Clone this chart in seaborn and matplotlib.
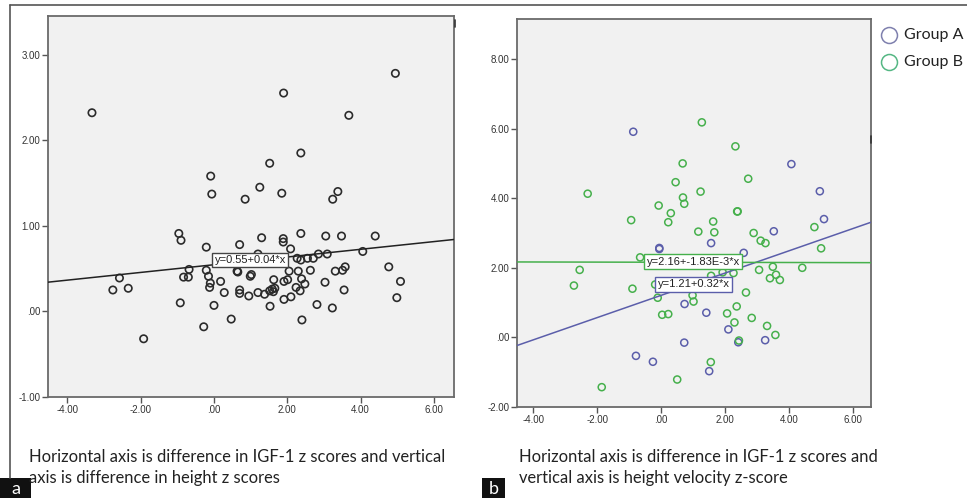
import numpy as np
import pandas as pd
import matplotlib.pyplot as plt
import seaborn as sns
from matplotlib.lines import Line2D
from matplotlib.patches import Rectangle
from matplotlib.ticker import FuncFormatter

# Panel a: difference in IGF-1 z scores vs difference in height z scores
a_igf = [-3.33, 4.95, 1.90, 3.68, 2.37, 1.52, -0.09, -0.06, 1.25, 1.85, 0.85, 3.38, 3.24,
         -0.96, -0.90, -0.21, 0.70, 1.30, 1.89, 1.89, 2.37, 3.05, 3.48, 4.40, 2.09, 4.06,
         2.85, 3.09, 2.27, 2.37, 2.55, 2.71, 1.20,
         -2.58, -2.76, -2.34, -1.92, -0.92, -0.83, -0.70, -0.68, -0.21, -0.15, -0.10, -0.12,
         0.18, 0.28, 0.00, -0.28, 0.47,
         0.65, 0.63, 0.70, 0.70, 0.95, 0.99, 1.02, 1.20, 1.38, 1.52, 1.59, 1.62, 1.66, 1.63,
         1.53, 1.91, 2.01, 1.91, 2.05, 2.10, 2.24, 2.30, 2.35, 2.39, 2.48, 2.63, 2.40, 2.81,
         3.03, 3.23, 3.31, 3.51, 3.58, 3.55, 4.77, 5.09, 4.99]
a_height = [2.32, 2.78, 2.55, 2.29, 1.85, 1.73, 1.58, 1.37, 1.45, 1.38, 1.31, 1.40, 1.31,
            0.91, 0.83, 0.75, 0.78, 0.86, 0.85, 0.81, 0.91, 0.88, 0.88, 0.88, 0.73, 0.70,
            0.67, 0.67, 0.62, 0.60, 0.62, 0.62, 0.67,
            0.39, 0.25, 0.27, -0.32, 0.10, 0.40, 0.40, 0.49, 0.48, 0.41, 0.33, 0.28,
            0.35, 0.22, 0.07, -0.18, -0.09,
            0.46, 0.47, 0.25, 0.21, 0.18, 0.41, 0.43, 0.22, 0.20, 0.24, 0.26, 0.23, 0.27, 0.37,
            0.06, 0.14, 0.37, 0.35, 0.47, 0.17, 0.28, 0.47, 0.24, 0.38, 0.32, 0.48, -0.10, 0.08,
            0.34, 0.04, 0.47, 0.48, 0.52, 0.25, 0.52, 0.35, 0.16]
a_fit = (0.545, 0.045)
a_fit_label = "y=0.55+0.04*x"

# Panel b: difference in IGF-1 z scores vs height velocity z-score, by group
b_groups = ["Group A", "Group B"]
b_igf_A = [-0.875, 4.07, 4.96, 5.09, 3.52, 1.56, -0.06, -0.06, 2.58, 0.73, 1.41, 2.10,
           0.72, 2.41, 3.25, -0.79, -0.26, 1.50]
b_hv_A = [5.91, 4.98, 4.20, 3.40, 3.05, 2.71, 2.57, 2.54, 2.43, 0.96, 0.71, 0.23,
          -0.15, -0.14, -0.08, -0.53, -0.70, -0.97]
b_igf_B = [1.27, 2.32, 0.67, 2.72, 0.45, 1.23, -2.30, 0.68, 0.72, -0.08, 0.30, 2.375, 2.39,
           -0.94, 0.22, 1.625, 1.16, 1.66, 2.89, 4.79, 3.11, 3.26, 5.00, -0.66, -2.55, -2.73,
           -0.90, -0.19, -0.11, 0.98, 1.01, 0.03, 0.22, 1.56, 2.26, 1.92, 3.06, 3.49, 3.59,
           3.40, 3.71, 4.41, 2.65, 2.36, 2.06, 2.83, 2.29, 3.31, 3.57, 2.43, 1.55, 0.50, -1.86]
b_hv_B = [6.18, 5.49, 5.00, 4.56, 4.46, 4.19, 4.13, 4.02, 3.84, 3.79, 3.57, 3.62, 3.62,
          3.37, 3.31, 3.33, 3.04, 3.02, 3.00, 3.17, 2.78, 2.71, 2.56, 2.30, 1.94, 1.49,
          1.40, 1.52, 1.14, 1.21, 1.03, 0.65, 0.67, 1.77, 1.85, 1.87, 1.94, 2.03, 1.80,
          1.70, 1.65, 2.00, 1.29, 0.89, 0.69, 0.56, 0.43, 0.33, 0.07, -0.09, -0.71, -1.21, -1.43]
b_fit_A = (1.21, 0.32)
b_fit_B = (2.16, -1.83e-3)
b_fit_labels = ["y=1.21+0.32*x", "y=2.16+-1.83E-3*x"]

x_ticks = [-4, -2, 0, 2, 4, 6]
a_yticks = [-1, 0, 1, 2, 3]
b_yticks = [-2, 0, 2, 4, 6, 8]

caption_a = ["Horizontal axis is difference in IGF-1 z scores and vertical",
             "axis is difference in height z scores"]
caption_b = ["Horizontal axis is difference in IGF-1 z scores and",
             "vertical axis is height velocity z-score"]

col_a = "#2b2b2b"
col_A = "#5b5eaa"
col_B = "#46b04c"

sns.set_theme(style="ticks")
plt.rcParams['font.family'] = ['Liberation Sans', 'DejaVu Sans']

W, H = 967, 498
fig = plt.figure(figsize=(W / 100, H / 100), dpi=100)
fig.patch.set_facecolor("white")


def fx(px):
    return px / W


def fy(py):
    return 1 - py / H


def tick_fmt(v, pos):
    s = f"{v:.2f}"
    return ".00" if s in ("0.00", "-0.00") else s


def style_axis(ax, xlim, ylim, yticks):
    ax.set_xlim(xlim)
    ax.set_ylim(ylim)
    ax.set_xticks(x_ticks)
    ax.set_yticks(yticks)
    ax.xaxis.set_major_formatter(FuncFormatter(tick_fmt))
    ax.yaxis.set_major_formatter(FuncFormatter(tick_fmt))
    ax.set_facecolor("#f1f1f1")
    for sp in ax.spines.values():
        sp.set_visible(True)
        sp.set_color("#6a6a6a")
        sp.set_linewidth(1.3)
    ax.tick_params(direction="out", length=4, width=1, color="#555555",
                   labelsize=7, labelcolor="#333333", pad=1.5)
    ax.set_xlabel("")
    ax.set_ylabel("")


# ---- panel a
ax_a = fig.add_axes([fx(48), fy(397), fx(454) - fx(48), fy(16) - fy(397)])
df_a = pd.DataFrame({"igf": a_igf, "height": a_height})
sns.scatterplot(data=df_a, x="igf", y="height", ax=ax_a, marker="o", s=28,
                facecolors="none", edgecolor=col_a, linewidth=1.2, zorder=3)
style_axis(ax_a, (-4.53, 6.55), (-1.0, 3.45), a_yticks)
xs = np.array(ax_a.get_xlim())
ax_a.plot(xs, a_fit[0] + a_fit[1] * xs, color="#222222", lw=1.1, zorder=4)
ax_a.text(0.99, 0.60, a_fit_label, ha="center", va="center", fontsize=8, color="#222222",
          bbox=dict(boxstyle="square,pad=0.22", fc="white", ec="#444444", lw=1), zorder=6)

# ---- panel b
ax_b = fig.add_axes([fx(517), fy(407), fx(871) - fx(517), fy(19) - fy(407)])
df_b = pd.DataFrame({
    "igf": b_igf_A + b_igf_B,
    "hv": b_hv_A + b_hv_B,
    "group": [b_groups[0]] * len(b_igf_A) + [b_groups[1]] * len(b_igf_B),
})
for g, c in zip(b_groups, [col_A, col_B]):
    sns.scatterplot(data=df_b[df_b["group"] == g], x="igf", y="hv", ax=ax_b, marker="o",
                    s=26, facecolors="none", edgecolor=c, linewidth=1.1, zorder=3)
style_axis(ax_b, (-4.51, 6.56), (-2.0, 9.15), b_yticks)
xs = np.array(ax_b.get_xlim())
ax_b.plot(xs, b_fit_A[0] + b_fit_A[1] * xs, color=col_A, lw=1.1, zorder=4)
ax_b.plot(xs, b_fit_B[0] + b_fit_B[1] * xs, color=col_B, lw=1.1, zorder=4)
ax_b.text(1.02, 1.53, b_fit_labels[0], ha="center", va="center", fontsize=8, color="#222222",
          bbox=dict(boxstyle="square,pad=0.22", fc="white", ec=col_A, lw=1), zorder=6)
ax_b.text(1.00, 2.17, b_fit_labels[1], ha="center", va="center", fontsize=8, color="#222222",
          bbox=dict(boxstyle="square,pad=0.22", fc="white", ec=col_B, lw=1), zorder=6)

# ---- legend for panel b
leg_cols = ["#7f80ae", "#55b784"]
for i, (g, c) in enumerate(zip(b_groups, leg_cols)):
    yy = 35 + 27 * i
    fig.add_artist(Line2D([fx(889)], [fy(yy)], marker="o", ms=11.5, mfc="none", mec=c,
                          mew=1.1, ls="none"))
    fig.text(fx(904), fy(yy), g, fontsize=11.5, va="center", ha="left", color="#222222",
             family=["Lato", "DejaVu Sans"])

# ---- frame lines and small artifacts
fig.add_artist(Line2D([fx(10), fx(967)], [fy(5), fy(5)], color="#555555", lw=1.2))
fig.add_artist(Line2D([fx(10), fx(10)], [fy(5), fy(478)], color="#555555", lw=1.2))
fig.add_artist(Line2D([fx(455), fx(455)], [fy(20), fy(27)], color="#333333", lw=1.2))
fig.add_artist(Line2D([fx(871), fx(871)], [fy(136), fy(143)], color="#333333", lw=1.2))

# ---- captions
for lines, x0 in [(caption_a, 29), (caption_b, 519)]:
    for j, t in enumerate(lines):
        fig.text(fx(x0), fy(462 + 21 * j), t, fontsize=11.9, va="baseline", ha="left",
                 color="#222222", family=["Lato", "DejaVu Sans"])

# ---- panel letters
for lab, x0, x1 in [("a", 0, 31), ("b", 482, 505)]:
    fig.add_artist(Rectangle((fx(x0), fy(498)), fx(x1) - fx(x0), fy(478) - fy(498),
                             facecolor="#111111", edgecolor="none"))
    fig.text(fx((x0 + x1) / 2), fy(489), lab, fontsize=13, color="white",
             ha="center", va="center", family=["Lato", "DejaVu Sans"])

fig.savefig("out.png", dpi=100)
